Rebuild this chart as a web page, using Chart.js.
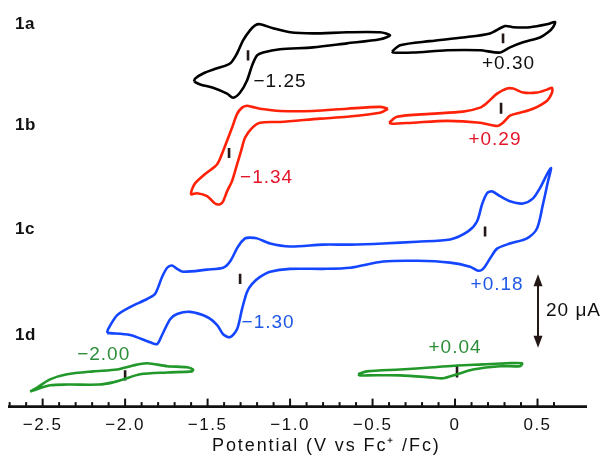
<!DOCTYPE html>
<html>
<head>
<meta charset="utf-8">
<script src="https://cdn.jsdelivr.net/npm/chart.js@4.4.1/dist/chart.umd.min.js"></script>
<style>
  body { margin: 0; background: #fff; }
  #wrap { width: 603px; height: 456px; }
</style>
</head>
<body>
<div id="wrap"><canvas id="cv"></canvas></div>
<script>
// potentials in V vs Fc+/Fc, currents in µA (traces offset for clarity)
// 1a, reduction wave
var e1aNeg = [-1.582,-1.545,-1.467,-1.382,-1.345,-1.303,-1.261,-1.230,-1.200,-1.164,-1.061,-0.861,-0.655,-0.455,-0.394,
              -0.455,-0.655,-0.861,-1.000,-1.103,-1.182,-1.212,-1.242,-1.285,-1.321,-1.364,-1.442,-1.527,-1.576];
var i1aNeg = [88.5,87.7,86.8,85.2,84.1,85.5,88.8,92.9,95.6,96.4,97.3,97.8,98.9,100.0,101.1,
              101.9,101.9,101.6,101.9,103.0,104.1,103.8,102.5,99.7,96.2,93.4,92.1,90.7,89.3];
// 1a, oxidation wave
var e1aPos = [-0.382,-0.333,-0.152,0.048,0.212,0.303,0.352,0.455,0.558,0.606,
              0.594,0.564,0.515,0.412,0.333,0.273,0.152,-0.048,-0.255,-0.376];
var i1aPos = [96.7,98.4,99.5,100.5,101.6,103.6,103.3,103.3,104.1,104.7,
              103.3,101.9,100.5,99.2,97.8,96.4,97.0,97.0,96.4,96.4];

// 1b
var e1bNeg = [-0.406,-0.455,-0.655,-0.818,-1.061,-1.182,-1.230,-1.273,-1.297,-1.321,-1.352,-1.382,-1.406,-1.424,-1.455,-1.503,-1.564,-1.600,
              -1.594,-1.576,-1.515,-1.442,-1.406,-1.352,-1.321,-1.291,-1.261,-1.230,-1.182,-1.061,-0.861,-0.655,-0.455];
var i1bNeg = [81.1,80.0,78.9,78.4,77.5,77.3,75.9,73.2,69.6,66.0,61.4,58.6,55.9,55.1,55.3,57.3,58.1,57.8,
              59.2,60.8,63.3,66.0,69.6,75.9,79.7,81.4,81.9,81.6,81.1,80.5,80.5,81.1,81.6];
var e1bPos = [-0.400,-0.352,-0.152,0.048,0.152,0.194,0.255,0.315,0.352,0.412,0.497,0.558,0.588,
              0.588,0.558,0.473,0.394,0.333,0.291,0.255,0.152,-0.048,-0.255,-0.382];
var i1bPos = [77.3,78.9,79.7,80.3,81.4,82.7,85.2,86.6,86.6,85.5,85.5,86.3,86.8,
              85.5,83.3,81.1,80.0,79.2,77.3,76.4,77.3,77.8,77.3,77.0];

// 1c, full scan
var e1c = [-2.109,-2.091,-1.970,-1.848,-1.806,-1.776,-1.727,-1.685,-1.606,-1.503,-1.442,-1.406,-1.364,-1.321,-1.291,-1.261,-1.230,-1.182,-1.121,
           -1.000,-0.800,-0.636,-0.436,-0.230,-0.030,0.091,0.139,0.170,0.212,0.255,0.333,0.436,0.497,0.533,0.564,0.582,
           0.558,0.515,0.473,0.412,0.333,0.273,0.224,0.194,0.164,0.133,0.079,-0.030,-0.230,-0.436,-0.636,-0.800,-1.000,
           -1.121,-1.200,-1.242,-1.273,-1.315,-1.364,-1.406,-1.503,-1.648,-1.685,-1.715,-1.745,-1.776,-1.818,-1.867,-1.970,-2.048,-2.103];
var i1c = [20.0,20.0,19.5,17.5,17.0,19.5,23.8,25.2,25.8,24.4,22.2,19.7,18.9,21.1,26.6,31.2,33.4,35.3,36.7,
           37.5,37.5,37.8,39.5,39.7,39.2,38.1,37.0,37.5,40.3,43.0,44.4,45.8,48.5,55.1,61.4,64.9,
           63.3,59.5,56.7,55.3,55.9,57.3,58.6,58.1,55.1,50.4,47.7,45.5,44.9,44.4,44.1,44.1,43.6,
           44.4,45.8,46.0,45.8,43.6,39.5,37.8,37.3,36.7,37.5,38.4,37.8,35.3,30.7,29.3,27.1,24.9,21.1];

// 1d
var e1dNeg = [-2.576,-2.533,-2.455,-2.352,-2.194,-2.048,-1.952,-1.867,-1.745,-1.624,-1.588,
              -1.594,-1.745,-1.909,-2.012,-2.073,-2.158,-2.352,-2.455,-2.558];
var i1dNeg = [4.1,5.2,7.4,8.8,9.6,10.1,11.2,11.8,11.0,10.7,10.1,
              9.6,9.3,8.8,7.4,6.6,6.0,6.0,5.8,4.4];
var e1dPos = [-0.588,-0.533,-0.333,-0.133,0.012,0.170,0.315,0.406,
              0.394,0.273,0.109,0.012,-0.073,-0.133,-0.333,-0.533,-0.576];
var i1dPos = [8.8,9.6,10.1,10.7,11.2,11.5,11.8,11.8,
              11.0,11.0,10.1,8.8,7.7,7.9,8.5,8.5,8.5];

// half-wave potential marks (V) and the current span of each mark
var halfE   = [-1.255, 0.291, -1.370, 0.279, -1.303, 0.182, -2.000, 0.012];
var halfLow = [94.2, 98.9, 67.7, 79.7, 33.4, 46.3, 7.1, 7.9];
var halfTop = [97.0, 101.6, 70.4, 82.7, 36.2, 49.0, 9.9, 11.2];
var halfText = ['−1.25', '+0.30', '−1.34', '+0.29', '−1.30', '+0.18', '−2.00', '+0.04'];

var compounds = ['1a', '1b', '1c', '1d'];

var majorTicks = [-2.5, -2.0, -1.5, -1.0, -0.5, 0, 0.5];
var tickLabels = ['−2.5', '−2.0', '−1.5', '−1.0', '−0.5', '0', '0.5'];
var minorTicks = [-2.7,-2.6,-2.4,-2.3,-2.2,-2.1,-1.9,-1.8,-1.7,-1.6,-1.4,-1.3,-1.2,-1.1,
                  -0.9,-0.8,-0.7,-0.6,-0.4,-0.3,-0.2,-0.1,0.1,0.2,0.3,0.4,0.6];

var scaleBar = 20; // µA

var lineCol = ['#000000', '#ff2208', '#1446ff', '#22982a'];
var textCol = ['#111111', '#e4142a', '#1f58e6', '#2c8e3a'];
var FONT = '"Liberation Sans", Arial, Helvetica, sans-serif';

function loop(es, is) {
    var pts = es.map(function (e, k) { return { x: e, y: is[k] }; });
    pts.push({ x: es[0], y: is[0] });
    return pts;
}

function trace(es, is, col) {
    return {
        data: loop(es, is),
        showLine: true,
        borderColor: col,
        borderWidth: 2.6,
        pointRadius: 0,
        tension: 0.28,
        fill: false
    };
}

var datasets = [
    trace(e1aNeg, i1aNeg, lineCol[0]),
    trace(e1aPos, i1aPos, lineCol[0]),
    trace(e1bNeg, i1bNeg, lineCol[1]),
    trace(e1bPos, i1bPos, lineCol[1]),
    trace(e1c, i1c, lineCol[2]),
    trace(e1dNeg, i1dNeg, lineCol[3]),
    trace(e1dPos, i1dPos, lineCol[3])
];
halfE.forEach(function (e, k) {
    datasets.push({
        data: [{ x: e, y: halfLow[k] }, { x: e, y: halfTop[k] }],
        showLine: true,
        borderColor: '#231815',
        borderWidth: 2.6,
        pointRadius: 0,
        tension: 0
    });
});

// where the texts sit (V, µA)
var notePos = [[-1.061, 88.4], [0.324, 93.3], [-1.142, 62.3], [0.242, 72.7],
               [-1.133, 22.7], [0.255, 33.3], [-2.130, 14.1], [0.000, 16.0]];
var namePos = [104.2, 76.7, 48.2, 19.5];
var nameE = -2.667;
var barE = 0.503, barFrom = 16.0;
var titleE = -0.78;

var decor = {
    id: 'decor',
    beforeDraw: function (chart) {
        chart.ctx.letterSpacing = '1.5px';
    },
    afterDatasetsDraw: function (chart) {
        var ctx = chart.ctx, xs = chart.scales.x, ys = chart.scales.y, a = chart.chartArea;
        ctx.save();
        // axis line with inward ticks
        ctx.strokeStyle = '#111';
        ctx.lineWidth = 2.6;
        ctx.beginPath();
        ctx.moveTo(a.left, a.bottom);
        ctx.lineTo(a.right, a.bottom);
        ctx.stroke();
        ctx.lineWidth = 2;
        xs.ticks.forEach(function (t) {
            var px = xs.getPixelForValue(t.value);
            var major = majorTicks.some(function (m) { return Math.abs(m - t.value) < 1e-6; });
            ctx.beginPath();
            ctx.moveTo(px, a.bottom);
            ctx.lineTo(px, a.bottom - (major ? 8 : 4.5));
            ctx.stroke();
        });

        // axis title
        ctx.letterSpacing = '1.9px';
        ctx.fillStyle = '#111';
        ctx.font = '18px ' + FONT;
        ctx.textAlign = 'center';
        ctx.textBaseline = 'alphabetic';
        ctx.fillText('Potential (V vs Fc⁺ /Fc)', xs.getPixelForValue(titleE), 451);

        // compound names
        ctx.letterSpacing = '0.5px';
        ctx.font = 'bold 17px ' + FONT;
        ctx.textAlign = 'left';
        ctx.textBaseline = 'middle';
        compounds.forEach(function (c, k) {
            ctx.fillText(c, xs.getPixelForValue(nameE), ys.getPixelForValue(namePos[k]));
        });

        // potentials
        ctx.letterSpacing = '1px';
        ctx.font = '19px ' + FONT;
        ctx.textAlign = 'center';
        halfText.forEach(function (s, k) {
            ctx.fillStyle = textCol[Math.floor(k / 2)];
            ctx.fillText(s, xs.getPixelForValue(notePos[k][0]), ys.getPixelForValue(notePos[k][1]));
        });

        // 20 µA scale bar
        var bx = xs.getPixelForValue(barE);
        var y0 = ys.getPixelForValue(barFrom), y1 = ys.getPixelForValue(barFrom + scaleBar);
        ctx.strokeStyle = '#231815';
        ctx.fillStyle = '#231815';
        ctx.lineWidth = 2;
        ctx.beginPath();
        ctx.moveTo(bx, y0 - 8);
        ctx.lineTo(bx, y1 + 8);
        ctx.stroke();
        ctx.beginPath();
        ctx.moveTo(bx, y1); ctx.lineTo(bx - 4.5, y1 + 12); ctx.lineTo(bx + 4.5, y1 + 12); ctx.closePath();
        ctx.fill();
        ctx.beginPath();
        ctx.moveTo(bx, y0); ctx.lineTo(bx - 4.5, y0 - 12); ctx.lineTo(bx + 4.5, y0 - 12); ctx.closePath();
        ctx.fill();
        ctx.fillStyle = '#111';
        ctx.textAlign = 'left';
        ctx.fillText(scaleBar + ' μA', bx + 8, ys.getPixelForValue(barFrom + scaleBar / 2));
        ctx.restore();
    }
};

var chart = new Chart(document.getElementById('cv').getContext('2d'), {
    type: 'scatter',
    data: { datasets: datasets },
    options: {
        responsive: true,
        maintainAspectRatio: false,
        animation: false,
        layout: { padding: { left: 8, right: 16, top: 0, bottom: 11 } },
        plugins: { legend: { display: false }, tooltip: { enabled: false } },
        scales: {
            x: {
                type: 'linear',
                min: -2.71,
                max: 0.80,
                grid: { display: false, drawTicks: false },
                border: { display: false },
                afterBuildTicks: function (scale) {
                    scale.ticks = majorTicks.concat(minorTicks).sort(function (p, q) { return p - q; })
                        .map(function (v) { return { value: v }; });
                },
                ticks: {
                    autoSkip: false,
                    maxRotation: 0,
                    padding: 9,
                    color: '#111',
                    font: { size: 17, family: FONT },
                    callback: function (v) {
                        var k = majorTicks.findIndex(function (m) { return Math.abs(m - v) < 1e-6; });
                        return k < 0 ? '' : tickLabels[k];
                    }
                }
            },
            y: { display: false, min: 0, max: 110.7 }
        }
    },
    plugins: [decor]
});
</script>
</body>
</html>
